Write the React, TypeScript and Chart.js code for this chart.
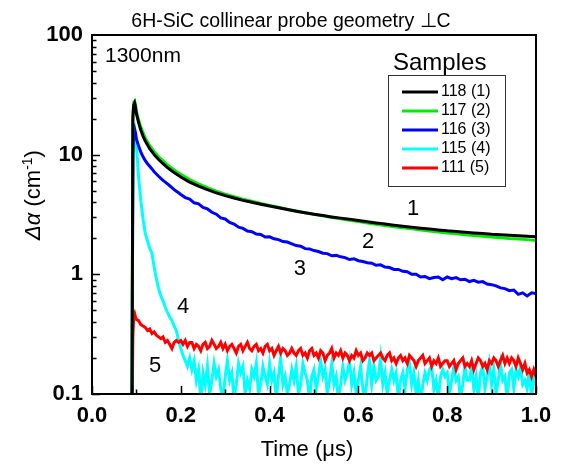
import React, { useEffect, useRef } from "react";
import { Chart, registerables } from "chart.js";

Chart.register(...registerables);

const FONT = "'Liberation Sans', Arial, Helvetica, sans-serif";

const chartTitle = "6H-SiC collinear probe geometry \u22A5C";
const wavelengthNote = "1300nm";
const legendTitle = "Samples";
const xAxisTitle = "Time (\u03BCs)";

const sampleLabels = ["118 (1)", "117 (2)", "116 (3)", "115 (4)", "111 (5)"];
const sampleColors = ["#000000", "#00ee00", "#0000ff", "#00ffff", "#ff0000"];

const curveNumbers = ["1", "2", "3", "4", "5"];
const curveNumberX = [0.723, 0.622, 0.468, 0.205, 0.142];
const curveNumberY = [3.55, 1.88, 1.12, 0.53, 0.171];

const xTickLabels = ["0.0", "0.2", "0.4", "0.6", "0.8", "1.0"];
const yTickValues = [0.1, 1, 10, 100];
const yTickLabels = ["0.1", "1", "10", "100"];

// time axis (µs) for the smooth curves 1 and 2
const timeSmooth = [
  0.09, 0.092, 0.094, 0.096, 0.098, 0.1, 0.105, 0.11, 0.115, 0.12, 0.13, 0.14, 0.15, 0.16, 0.17, 0.18, 0.19, 0.2,
  0.22, 0.24, 0.26, 0.28, 0.3, 0.32, 0.34, 0.36, 0.38, 0.4, 0.42, 0.44, 0.46, 0.48, 0.5, 0.52, 0.54, 0.56, 0.58, 0.6,
  0.62, 0.64, 0.66, 0.68, 0.7, 0.72, 0.74, 0.76, 0.78, 0.8, 0.82, 0.84, 0.86, 0.88, 0.9, 0.92, 0.94, 0.96, 0.98, 1.0,
];
const sample118 = [
  0.05, 20, 26, 27, 25, 22, 18.5, 16, 14.3, 13, 11.2, 10, 9.1, 8.4, 7.8, 7.3, 6.9, 6.5,
  5.9, 5.45, 5.1, 4.8, 4.55, 4.35, 4.15, 4.0, 3.85, 3.72, 3.6, 3.48, 3.37, 3.27, 3.18, 3.1, 3.02, 2.95, 2.88, 2.82,
  2.75, 2.69, 2.63, 2.57, 2.52, 2.47, 2.43, 2.39, 2.35, 2.31, 2.28, 2.25, 2.22, 2.19, 2.16, 2.14, 2.12, 2.1, 2.08, 2.06,
];
const sample117 = [
  0.05, 22, 27.5, 28, 26, 23, 19.5, 17, 15.2, 13.8, 11.9, 10.6, 9.6, 8.9, 8.2, 7.7, 7.25, 6.85,
  6.2, 5.7, 5.3, 4.95, 4.68, 4.45, 4.25, 4.08, 3.92, 3.77, 3.63, 3.5, 3.38, 3.27, 3.17, 3.08, 2.99, 2.91, 2.83, 2.76,
  2.69, 2.62, 2.56, 2.5, 2.45, 2.4, 2.35, 2.3, 2.26, 2.22, 2.18, 2.14, 2.11, 2.08, 2.05, 2.02, 1.99, 1.97, 1.95, 1.92,
];

// time axis for curve 3
const timeBlue = [
  0.09, 0.092, 0.094, 0.096, 0.098, 0.1, 0.105, 0.11, 0.115, 0.12, 0.125, 0.13, 0.135, 0.14, 0.145, 0.15, 0.155, 0.16,
  0.165, 0.17, 0.175, 0.18, 0.185, 0.19, 0.195,
  0.2, 0.21, 0.22, 0.23, 0.24, 0.25, 0.26, 0.27, 0.28, 0.29, 0.3, 0.31, 0.32, 0.33, 0.34, 0.35, 0.36, 0.37, 0.38, 0.39,
  0.4, 0.41, 0.42, 0.43, 0.44, 0.45, 0.46, 0.47, 0.48, 0.49, 0.5, 0.51, 0.52, 0.53, 0.54, 0.55, 0.56, 0.57, 0.58, 0.59,
  0.6, 0.61, 0.62, 0.63, 0.64, 0.65, 0.66, 0.67, 0.68, 0.69, 0.7, 0.71, 0.72, 0.73, 0.74, 0.75, 0.76, 0.77, 0.78, 0.79,
  0.8, 0.81, 0.82, 0.83, 0.84, 0.85, 0.86, 0.87, 0.88, 0.89, 0.9, 0.91, 0.92, 0.93, 0.94, 0.95, 0.96, 0.97, 0.98, 0.99,
  1.0,
];
const sample116 = [
  0.05, 10, 15, 16.3, 15.2, 13.5, 11.8, 10.5, 9.6, 8.9, 8.4, 8.0, 7.6, 7.2, 6.9, 6.6, 6.35, 6.1, 5.9, 5.7, 5.5, 5.3,
  5.1, 4.95, 4.8,
  4.65, 4.38, 4.25, 3.96, 3.88, 3.62, 3.52, 3.3, 3.18, 2.96, 2.9, 2.72, 2.63, 2.48, 2.42, 2.3, 2.27, 2.17, 2.15, 2.05,
  2.06, 1.98, 1.95, 1.88, 1.86, 1.8, 1.74, 1.72, 1.64, 1.63, 1.58, 1.55, 1.5, 1.49, 1.43, 1.44, 1.4, 1.38, 1.33, 1.35,
  1.3, 1.28, 1.25, 1.24, 1.19, 1.2, 1.15, 1.14, 1.1, 1.1, 1.06, 1.05, 1.0, 1.0, 0.95, 0.96, 0.92, 0.94, 0.95, 0.9,
  0.95, 0.92, 0.94, 0.9, 0.91, 0.87, 0.89, 0.86, 0.87, 0.83, 0.82, 0.8, 0.77, 0.76, 0.73, 0.74, 0.68, 0.7, 0.66, 0.7,
  0.69,
];

// time axis for the noisy curves 4 and 5
const timeNoisy = [
  0.09, 0.092, 0.094, 0.096, 0.098,
  0.1, 0.105, 0.11, 0.115, 0.12, 0.125, 0.13, 0.135, 0.14, 0.145,
  0.15, 0.155, 0.16, 0.165, 0.17, 0.175, 0.18, 0.185, 0.19, 0.195,
  0.2, 0.205, 0.21, 0.215, 0.22, 0.225, 0.23, 0.235, 0.24, 0.245,
  0.25, 0.255, 0.26, 0.265, 0.27, 0.275, 0.28, 0.285, 0.29, 0.295,
  0.3, 0.305, 0.31, 0.315, 0.32, 0.325, 0.33, 0.335, 0.34, 0.345,
  0.35, 0.355, 0.36, 0.365, 0.37, 0.375, 0.38, 0.385, 0.39, 0.395,
  0.4, 0.405, 0.41, 0.415, 0.42, 0.425, 0.43, 0.435, 0.44, 0.445,
  0.45, 0.455, 0.46, 0.465, 0.47, 0.475, 0.48, 0.485, 0.49, 0.495,
  0.5, 0.505, 0.51, 0.515, 0.52, 0.525, 0.53, 0.535, 0.54, 0.545,
  0.55, 0.555, 0.56, 0.565, 0.57, 0.575, 0.58, 0.585, 0.59, 0.595,
  0.6, 0.605, 0.61, 0.615, 0.62, 0.625, 0.63, 0.635, 0.64, 0.645,
  0.65, 0.655, 0.66, 0.665, 0.67, 0.675, 0.68, 0.685, 0.69, 0.695,
  0.7, 0.705, 0.71, 0.715, 0.72, 0.725, 0.73, 0.735, 0.74, 0.745,
  0.75, 0.755, 0.76, 0.765, 0.77, 0.775, 0.78, 0.785, 0.79, 0.795,
  0.8, 0.805, 0.81, 0.815, 0.82, 0.825, 0.83, 0.835, 0.84, 0.845,
  0.85, 0.855, 0.86, 0.865, 0.87, 0.875, 0.88, 0.885, 0.89, 0.895,
  0.9, 0.905, 0.91, 0.915, 0.92, 0.925, 0.93, 0.935, 0.94, 0.945,
  0.95, 0.955, 0.96, 0.965, 0.97, 0.975, 0.98, 0.985, 0.99, 0.995,
  1.0,
];
const sample115 = [
  0.05, 8, 15, 16, 13,
  12, 6.5, 4.1, 2.9, 2.2, 1.9, 1.65, 1.5, 1.15, 0.92,
  0.76, 0.66, 0.6, 0.53, 0.48, 0.44, 0.41, 0.37, 0.34, 0.28,
  0.24, 0.21, 0.19, 0.17, 0.2, 0.16, 0.19, 0.13, 0.16, 0.09,
  0.15, 0.12, 0.17, 0.1, 0.13, 0.18, 0.14, 0.16, 0.11, 0.09,
  0.14, 0.19, 0.13, 0.15, 0.09, 0.12, 0.18, 0.15, 0.17, 0.1,
  0.13, 0.11, 0.16, 0.14, 0.18, 0.1, 0.12, 0.17, 0.14, 0.12,
  0.18, 0.13, 0.15, 0.09, 0.14, 0.2, 0.12, 0.14, 0.1, 0.12,
  0.16, 0.13, 0.17, 0.1, 0.12, 0.18, 0.15, 0.13, 0.09, 0.14,
  0.16, 0.11, 0.14, 0.19, 0.14, 0.16, 0.1, 0.13, 0.18, 0.12,
  0.14, 0.09, 0.12, 0.17, 0.13, 0.15, 0.19, 0.12, 0.15, 0.1,
  0.13, 0.17, 0.11, 0.09, 0.14, 0.19, 0.12, 0.17, 0.13, 0.14,
  0.2, 0.12, 0.15, 0.1, 0.13, 0.16, 0.13, 0.15, 0.09, 0.13,
  0.15, 0.11, 0.16, 0.18, 0.12, 0.15, 0.1, 0.13, 0.08, 0.12,
  0.15, 0.13, 0.16, 0.17, 0.11, 0.13, 0.09, 0.14, 0.16, 0.14,
  0.15, 0.1, 0.13, 0.17, 0.13, 0.14, 0.09, 0.12, 0.17, 0.13,
  0.13, 0.17, 0.11, 0.14, 0.09, 0.15, 0.17, 0.11, 0.14, 0.18,
  0.12, 0.16, 0.1, 0.13, 0.18, 0.13, 0.14, 0.09, 0.15, 0.16,
  0.11, 0.16, 0.14, 0.17, 0.12, 0.13, 0.11, 0.16, 0.09, 0.14,
  0.12,
];
const sample111 = [
  0.05, 0.3, 0.45, 0.47, 0.44,
  0.42, 0.41, 0.38, 0.37, 0.36, 0.34, 0.35, 0.32, 0.33, 0.31,
  0.3, 0.29, 0.3, 0.27, 0.28, 0.26, 0.24, 0.27, 0.28, 0.27,
  0.28, 0.26, 0.28, 0.25, 0.27, 0.27, 0.24, 0.26, 0.25, 0.23,
  0.26, 0.27, 0.24, 0.25, 0.28, 0.26, 0.24, 0.25, 0.27, 0.24,
  0.26, 0.23, 0.25, 0.26, 0.24, 0.22, 0.25, 0.26, 0.23, 0.25,
  0.27, 0.24, 0.23, 0.25, 0.26, 0.23, 0.24, 0.22, 0.25, 0.26,
  0.23, 0.24, 0.21, 0.23, 0.25, 0.22, 0.24, 0.23, 0.21, 0.22,
  0.24, 0.22, 0.21, 0.23, 0.24, 0.21, 0.22, 0.2, 0.23, 0.24,
  0.21, 0.22, 0.2, 0.23, 0.22, 0.19, 0.21, 0.22, 0.24, 0.2,
  0.22, 0.21, 0.23, 0.2, 0.22, 0.21, 0.19, 0.21, 0.2, 0.23,
  0.21, 0.22, 0.19, 0.2, 0.22, 0.21, 0.22, 0.19, 0.2, 0.21,
  0.22, 0.2, 0.19, 0.21, 0.22, 0.19, 0.2, 0.18, 0.2, 0.21,
  0.19, 0.2, 0.18, 0.21, 0.2, 0.19, 0.17, 0.19, 0.2, 0.21,
  0.18, 0.19, 0.2, 0.17, 0.19, 0.18, 0.2, 0.17, 0.18, 0.19,
  0.19, 0.17, 0.18, 0.19, 0.16, 0.18, 0.19, 0.2, 0.17, 0.18,
  0.17, 0.19, 0.16, 0.18, 0.2, 0.19, 0.17, 0.18, 0.16, 0.19,
  0.18, 0.2, 0.19, 0.17, 0.19, 0.21, 0.18, 0.2, 0.18, 0.2,
  0.19, 0.17, 0.2, 0.18, 0.16, 0.18, 0.15, 0.16, 0.14, 0.16,
  0.14,
];

const seriesTimes = [timeSmooth, timeSmooth, timeBlue, timeNoisy, timeNoisy];
const seriesValues = [sample118, sample117, sample116, sample115, sample111];
const seriesOrder = [0, 1, 2, 4, 3];

const decorPlugin = {
  id: "decor",
  afterDraw(chart: any) {
    const { ctx, chartArea: a, scales } = chart;
    const x = scales.x;
    const y = scales.y;
    ctx.save();
    ctx.fillStyle = "#000";
    ctx.strokeStyle = "#000";

    // inward ticks
    ctx.lineWidth = 1.5;
    ctx.beginPath();
    for (let d = 0; d < yTickValues.length - 1; d++) {
      for (let k = 1; k <= 9; k++) {
        const v = yTickValues[d] * k;
        const py = Math.round(y.getPixelForValue(v)) + 0.5;
        const len = k === 1 ? 8 : 4.5;
        ctx.moveTo(a.left, py);
        ctx.lineTo(a.left + len, py);
      }
    }
    x.ticks.forEach((t: any, i: number) => {
      const px = Math.round(x.getPixelForValue(t.value)) + 0.5;
      const len = i % 2 === 0 ? 8 : 4.5;
      ctx.moveTo(px, a.bottom);
      ctx.lineTo(px, a.bottom - len);
    });
    ctx.stroke();

    // frame
    ctx.lineWidth = 2;
    ctx.strokeRect(a.left, a.top, a.right - a.left, a.bottom - a.top);

    // chart title
    ctx.font = `19.5px ${FONT}`;
    ctx.textAlign = "center";
    ctx.textBaseline = "alphabetic";
    ctx.fillText(chartTitle, 291, 27);

    // x axis title
    ctx.font = `22px ${FONT}`;
    ctx.fillText(xAxisTitle, 307, 456);

    // y axis title (rotated)
    ctx.save();
    ctx.translate(40, 195);
    ctx.rotate(-Math.PI / 2);
    const parts = [
      { t: "\u0394\u03B1", f: `italic 22px ${FONT}`, dy: 0 },
      { t: " (cm", f: `22px ${FONT}`, dy: 0 },
      { t: "-1", f: `14px ${FONT}`, dy: -8 },
      { t: ")", f: `22px ${FONT}`, dy: 0 },
    ];
    let total = 0;
    parts.forEach((p) => {
      ctx.font = p.f;
      total += ctx.measureText(p.t).width;
    });
    let cx = -total / 2;
    ctx.textAlign = "left";
    parts.forEach((p) => {
      ctx.font = p.f;
      ctx.fillText(p.t, cx, p.dy);
      cx += ctx.measureText(p.t).width;
    });
    ctx.restore();

    // wavelength note
    ctx.textAlign = "left";
    ctx.font = `21px ${FONT}`;
    ctx.fillText(wavelengthNote, a.left + 13, a.top + 27);

    // curve numbers
    ctx.textAlign = "center";
    ctx.textBaseline = "middle";
    ctx.font = `22px ${FONT}`;
    curveNumbers.forEach((n, i) => {
      ctx.fillText(n, x.getPixelForValue(curveNumberX[i]), y.getPixelForValue(curveNumberY[i]));
    });

    // legend
    const bx = a.right - 148;
    const by = a.top + 40;
    const bw = 117;
    const bh = 111;
    ctx.textAlign = "left";
    ctx.textBaseline = "alphabetic";
    ctx.font = `24px ${FONT}`;
    ctx.fillText(legendTitle, bx + 5, a.top + 35);
    ctx.lineWidth = 1;
    ctx.strokeStyle = "#333";
    ctx.strokeRect(bx + 0.5, by + 0.5, bw, bh);
    ctx.font = `16px ${FONT}`;
    ctx.textBaseline = "middle";
    sampleLabels.forEach((lab, i) => {
      const ry = by + 17 + i * 19;
      ctx.strokeStyle = sampleColors[i];
      ctx.lineWidth = 3;
      ctx.beginPath();
      ctx.moveTo(bx + 14, ry);
      ctx.lineTo(bx + 50, ry);
      ctx.stroke();
      ctx.fillStyle = "#000";
      ctx.fillText(lab, bx + 53, ry);
    });
    ctx.restore();
  },
};

export default function App() {
  const canvasRef = useRef<HTMLCanvasElement | null>(null);

  useEffect(() => {
    if (!canvasRef.current) return;
    const datasets = seriesValues.map((vals, s) => ({
      label: sampleLabels[s],
      data: vals.map((v, i) => ({ x: seriesTimes[s][i], y: v })),
      borderColor: sampleColors[s],
      backgroundColor: sampleColors[s],
      borderWidth: 3,
      pointRadius: 0,
      tension: 0,
      fill: false,
      order: seriesOrder[s],
    }));
    const chart = new Chart(canvasRef.current, {
      type: "line",
      data: { datasets },
      options: {
        animation: false,
        responsive: true,
        maintainAspectRatio: false,
        events: [],
        layout: { padding: { left: 0, right: 25, top: 35, bottom: 0 } },
        plugins: { legend: { display: false }, title: { display: false }, tooltip: { enabled: false } },
        scales: {
          x: {
            type: "linear",
            min: 0,
            max: 1,
            grid: { display: false, drawTicks: false },
            border: { display: false },
            ticks: {
              stepSize: 0.1,
              autoSkip: false,
              maxRotation: 0,
              padding: 9,
              color: "#000",
              font: { family: FONT, size: 22, weight: "bold" },
              callback: (_v: any, i: number) => (i % 2 === 0 ? xTickLabels[i / 2] : ""),
            },
            afterFit: (s: any) => {
              s.height = 73;
            },
          },
          y: {
            type: "logarithmic",
            min: 0.1,
            max: 100,
            grid: { display: false, drawTicks: false },
            border: { display: false },
            ticks: {
              autoSkip: false,
              padding: 9,
              color: "#000",
              font: { family: FONT, size: 22, weight: "bold" },
              callback: (v: any) => {
                const idx = yTickValues.findIndex((t) => Math.abs(t - Number(v)) < 1e-9 * Math.max(1, t));
                return idx >= 0 ? yTickLabels[idx] : "";
              },
            },
            afterFit: (s: any) => {
              s.width = 92;
            },
          },
        },
      },
      plugins: [decorPlugin],
    });
    return () => chart.destroy();
  }, []);

  return (
    <div style={{ position: "absolute", left: 0, top: 0, width: 561, height: 467, background: "#fff" }}>
      <canvas ref={canvasRef} />
    </div>
  );
}
